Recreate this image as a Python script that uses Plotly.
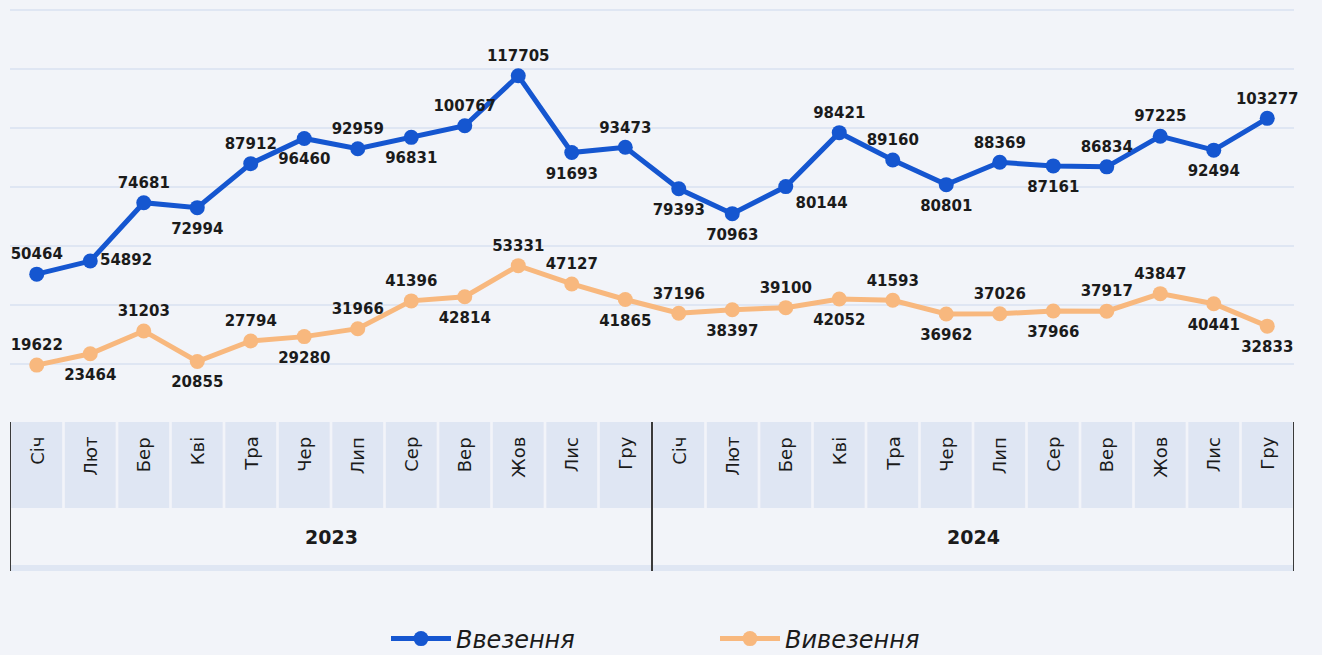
import plotly.graph_objects as go

months = ["Січ", "Лют", "Бер", "Кві", "Тра", "Чер", "Лип", "Сер", "Вер", "Жов", "Лис", "Гру"]
years = ["2023", "2024"]

imports_2023 = [50464, 54892, 74681, 72994, 87912, 96460, 92959, 96831, 100767, 117705, 91693, 93473]
imports_2024 = [79393, 70963, 80144, 98421, 89160, 80801, 88369, 87161, 86834, 97225, 92494, 103277]
exports_2023 = [19622, 23464, 31203, 20855, 27794, 29280, 31966, 41396, 42814, 53331, 47127, 41865]
exports_2024 = [37196, 38397, 39100, 42052, 41593, 36962, 37026, 37966, 37917, 43847, 40441, 32833]

imports = imports_2023 + imports_2024
exports = exports_2023 + exports_2024
cats = [(y, m) for y in years for m in months]
xs = list(range(len(cats)))

T, B = "top center", "bottom center"
imp_pos = [T, "middle right", T, B, T, B, T, B, T, T, B, T,
           B, B, "bottom right", T, T, B, T, B, T, T, B, T]
exp_pos = [T, B, T, B, T, B, T, T, B, T, T, B,
           T, B, T, B, T, B, T, B, T, T, B, B]

FONT = "'DejaVu Sans', Inter, sans-serif"
BLUE = "#1556d0"
ORANGE = "#f8b87e"
BG = "#f2f4f9"
CELL = "#dfe6f3"
TXT = "#1b1b1b"

def pad_size(p):
    if p == T:
        return 16
    if p == B:
        return 22
    return 14

fig = go.Figure()
for name, vals, color in [("Ввезення", imports, BLUE), ("Вивезення", exports, ORANGE)]:
    fig.add_trace(go.Scatter(
        x=xs, y=vals, mode="lines+markers", name=name,
        line=dict(color=color, width=5), marker=dict(color=color, size=15, line=dict(width=0)),
        cliponaxis=False, hoverinfo="x+y",
    ))
# label traces on top, with invisible markers used only as text padding
for name, vals, pos in [("Ввезення", imports, imp_pos), ("Вивезення", exports, exp_pos)]:
    fig.add_trace(go.Scatter(
        x=xs, y=vals, mode="markers+text", name=name, showlegend=False,
        marker=dict(color=BG, opacity=0, size=[pad_size(p) for p in pos], line=dict(width=0)),
        text=[str(v) for v in vals], textposition=pos,
        textfont=dict(family=FONT, size=15, color=TXT, weight="bold"),
        cliponaxis=False, hoverinfo="skip",
    ))

TOP_M, BOT_M = 6, 232
PLOT_BOTTOM = 655 - BOT_M
H = 655 - TOP_M - BOT_M
def py(p):
    return (PLOT_BOTTOM - p) / H

shapes = []
annotations = []
for i, (y, m) in enumerate(cats):
    shapes.append(dict(type="rect", xref="x", yref="paper",
                       x0=i - 0.5 + 0.025, x1=i + 0.5 - 0.025,
                       y0=py(508), y1=py(422), fillcolor=CELL,
                       line=dict(width=0), layer="above"))
    annotations.append(dict(x=i, y=py(435), xref="x", yref="paper", text=m,
                            showarrow=False, textangle=-90,
                            xanchor="center", yanchor="top",
                            font=dict(family=FONT, size=18, color=TXT)))
shapes.append(dict(type="rect", xref="x", yref="paper", x0=-0.5, x1=len(cats) - 0.5,
                   y0=py(571), y1=py(565), fillcolor=CELL, line=dict(width=0), layer="above"))
for k in range(len(years) + 1):
    xv = -0.5 + k * len(months)
    shapes.append(dict(type="line", xref="x", yref="paper", x0=xv, x1=xv,
                       y0=py(571), y1=py(422), line=dict(color="#3a3a3a", width=2), layer="above"))
for k, y in enumerate(years):
    annotations.append(dict(x=k * len(months) + (len(months) - 1) / 2, y=py(537),
                            xref="x", yref="paper", text=y, showarrow=False,
                            xanchor="center", yanchor="middle",
                            font=dict(family=FONT, size=19, color=TXT, weight="bold")))

ymax = 140000 + 4 * 140000 / 413

fig.update_layout(
    width=1322, height=655,
    margin=dict(l=10, r=28, t=TOP_M, b=BOT_M),
    paper_bgcolor=BG, plot_bgcolor=BG,
    showlegend=True,
    legend=dict(orientation="h", xref="container", yref="container",
                x=386 / 1322, xanchor="left", y=16 / 655, yanchor="middle",
                font=dict(family=FONT, size=24, color=TXT, style="italic"),
                itemwidth=60, entrywidth=254, entrywidthmode="pixels",
                traceorder="normal", bgcolor="rgba(0,0,0,0)"),
    xaxis=dict(range=[-0.5, len(cats) - 0.5], showticklabels=False, showgrid=False,
               zeroline=False, showline=False, ticks=""),
    yaxis=dict(range=[0, ymax], dtick=20000, showticklabels=False, showgrid=True,
               gridcolor="#dfe6f3", gridwidth=2, zeroline=False, showline=False, ticks=""),
    shapes=shapes, annotations=annotations,
)

fig.write_html("out.html", config={"displayModeBar": False},
               post_script="document.body.style.margin='0';document.body.style.background='%s';" % BG)
